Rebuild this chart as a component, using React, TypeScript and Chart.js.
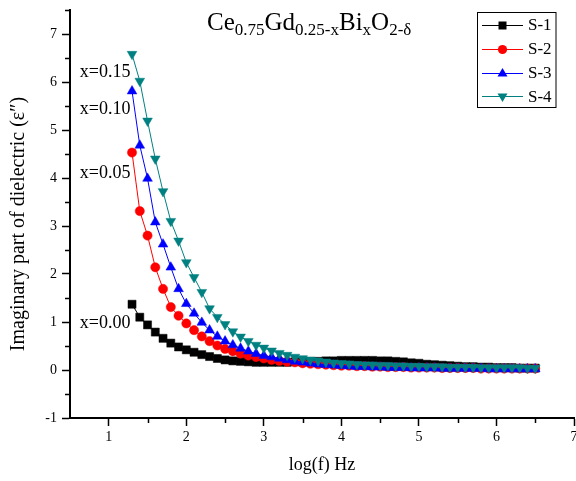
import React, { useEffect, useRef } from "react";
import { Chart, registerables } from "chart.js";

Chart.register(...registerables);

// log(f) values (Hz, log scale)
const logF = [
  1.3, 1.4, 1.5, 1.6, 1.7, 1.8, 1.9, 2.0, 2.1, 2.2, 2.3, 2.4, 2.5, 2.6, 2.7, 2.8, 2.9,
  3.0, 3.1, 3.2, 3.3, 3.4, 3.5, 3.6, 3.7, 3.8, 3.9, 4.0, 4.1, 4.2, 4.3, 4.4, 4.5, 4.6,
  4.7, 4.8, 4.9, 5.0, 5.1, 5.2, 5.3, 5.4, 5.5, 5.6, 5.7, 5.8, 5.9, 6.0, 6.1, 6.2, 6.3,
  6.4, 6.5,
];

const s1 = [
  1.37, 1.1, 0.94, 0.79, 0.66, 0.56, 0.48, 0.42, 0.37, 0.32, 0.28, 0.24, 0.21, 0.19, 0.18, 0.17, 0.16,
  0.16, 0.16, 0.16, 0.16, 0.17, 0.17, 0.18, 0.18, 0.19, 0.19, 0.2, 0.2, 0.2, 0.2, 0.2, 0.19, 0.19,
  0.18, 0.17, 0.15, 0.14, 0.12, 0.11, 0.1, 0.09, 0.08, 0.07, 0.07, 0.06, 0.06, 0.05, 0.05, 0.05, 0.04,
  0.04, 0.04,
];

const s2 = [
  4.53, 3.31, 2.8, 2.14, 1.69, 1.31, 1.13, 0.97, 0.83, 0.7, 0.6, 0.51, 0.44, 0.39, 0.34, 0.3, 0.27,
  0.24, 0.21, 0.19, 0.17, 0.16, 0.14, 0.13, 0.12, 0.11, 0.1, 0.09, 0.09, 0.08, 0.08, 0.07, 0.07, 0.06,
  0.06, 0.06, 0.05, 0.05, 0.05, 0.05, 0.04, 0.04, 0.04, 0.04, 0.04, 0.03, 0.03, 0.03, 0.03, 0.03, 0.03,
  0.03, 0.03,
];

const s3 = [
  5.81, 4.68, 3.99, 3.08, 2.62, 2.14, 1.69, 1.38, 1.18, 0.99, 0.83, 0.7, 0.6, 0.52, 0.45, 0.39, 0.34,
  0.3, 0.27, 0.24, 0.21, 0.18, 0.16, 0.14, 0.12, 0.11, 0.1, 0.09, 0.08, 0.07, 0.07, 0.06, 0.06, 0.05,
  0.05, 0.05, 0.04, 0.04, 0.04, 0.04, 0.03, 0.03, 0.03, 0.03, 0.03, 0.03, 0.02, 0.02, 0.02, 0.02, 0.02,
  0.02, 0.02,
];

const s4 = [
  6.58, 6.02, 5.19, 4.4, 3.72, 3.1, 2.69, 2.24, 1.93, 1.62, 1.28, 1.1, 0.95, 0.8, 0.69, 0.6, 0.52,
  0.46, 0.4, 0.35, 0.31, 0.27, 0.24, 0.21, 0.19, 0.17, 0.15, 0.14, 0.13, 0.12, 0.11, 0.11, 0.1, 0.1,
  0.09, 0.09, 0.08, 0.08, 0.07, 0.07, 0.07, 0.06, 0.06, 0.06, 0.06, 0.05, 0.05, 0.05, 0.05, 0.05, 0.05,
  0.04, 0.04,
];

const seriesNames = ["S-1", "S-2", "S-3", "S-4"];
const seriesValues = [s1, s2, s3, s4];
const seriesColors = ["#000000", "#ff0000", "#0000ff", "#008080"];

const xTicks = [1, 2, 3, 4, 5, 6, 7];
const yTicks = [-1, 0, 1, 2, 3, 4, 5, 6, 7];

const compositionLabels = ["x=0.15", "x=0.10", "x=0.05", "x=0.00"];
const compositionAnchorX = 1.28;
const compositionAnchorY = [6.2, 5.44, 4.1, 0.97];

const xTitle = "log(f) Hz";
const yTitle = "Imaginary part of dielectric (\u03b5\u2033)";
const titleParts: [string, boolean][] = [
  ["Ce", false],
  ["0.75", true],
  ["Gd", false],
  ["0.25-x", true],
  ["Bi", false],
  ["x", true],
  ["O", false],
  ["2-\u03b4", true],
];

const FONT = '"Liberation Serif", "Times New Roman", serif';

function drawMarker(ctx: CanvasRenderingContext2D, kind: number, x: number, y: number, color: string) {
  ctx.save();
  ctx.fillStyle = color;
  ctx.beginPath();
  if (kind === 0) {
    ctx.rect(x - 4, y - 4, 8, 8);
  } else if (kind === 1) {
    ctx.arc(x, y, 4.6, 0, Math.PI * 2);
  } else if (kind === 2) {
    ctx.moveTo(x, y - 5.5);
    ctx.lineTo(x + 5, y + 3);
    ctx.lineTo(x - 5, y + 3);
    ctx.closePath();
  } else {
    ctx.moveTo(x, y + 5.5);
    ctx.lineTo(x + 5, y - 3);
    ctx.lineTo(x - 5, y - 3);
    ctx.closePath();
  }
  ctx.fill();
  ctx.restore();
}

const decorPlugin = {
  id: "decor",
  afterDraw(chart: any) {
    const ctx: CanvasRenderingContext2D = chart.ctx;
    const xs = chart.scales.x;
    const ys = chart.scales.y;
    const area = chart.chartArea;
    ctx.save();

    // minor ticks
    ctx.strokeStyle = "#000";
    ctx.lineWidth = 1.5;
    ctx.beginPath();
    for (let i = 0; i < xTicks.length - 1; i++) {
      const px = Math.round(xs.getPixelForValue((xTicks[i] + xTicks[i + 1]) / 2)) + 0.5;
      ctx.moveTo(px, area.bottom);
      ctx.lineTo(px, area.bottom + 5);
    }
    const yMinor: number[] = [];
    for (let i = 0; i < yTicks.length - 1; i++) yMinor.push((yTicks[i] + yTicks[i + 1]) / 2);
    yMinor.push(yTicks[yTicks.length - 1] + 0.5);
    for (const v of yMinor) {
      const py = Math.round(ys.getPixelForValue(v)) + 0.5;
      ctx.moveTo(area.left, py);
      ctx.lineTo(area.left - 5, py);
    }
    ctx.stroke();

    // title with subscripts
    let tx = 207;
    ctx.fillStyle = "#000";
    ctx.textBaseline = "alphabetic";
    ctx.textAlign = "left";
    for (const [txt, sub] of titleParts) {
      ctx.font = (sub ? "17px " : "25px ") + FONT;
      ctx.fillText(txt, tx, sub ? 35 : 30);
      tx += ctx.measureText(txt).width;
    }

    // composition annotations
    ctx.font = "18px " + FONT;
    ctx.textAlign = "right";
    ctx.textBaseline = "middle";
    compositionLabels.forEach((t, i) => {
      ctx.fillText(t, xs.getPixelForValue(compositionAnchorX), ys.getPixelForValue(compositionAnchorY[i]));
    });

    // axis titles
    ctx.font = "18px " + FONT;
    ctx.textAlign = "center";
    ctx.textBaseline = "middle";
    ctx.fillText(xTitle, (area.left + area.right) / 2, 465);
    ctx.save();
    ctx.font = "20px " + FONT;
    ctx.translate(19, 224);
    ctx.rotate(-Math.PI / 2);
    ctx.fillText(yTitle, 0, 0);
    ctx.restore();

    // legend
    ctx.strokeStyle = "#000";
    ctx.lineWidth = 1;
    ctx.strokeRect(477.5, 12.5, 78.5, 95);
    ctx.font = "17px " + FONT;
    ctx.textAlign = "left";
    ctx.textBaseline = "middle";
    seriesNames.forEach((name, i) => {
      const y = 25 + i * 23.8;
      ctx.strokeStyle = seriesColors[i];
      ctx.lineWidth = 1;
      ctx.beginPath();
      ctx.moveTo(482, Math.round(y) + 0.5);
      ctx.lineTo(523, Math.round(y) + 0.5);
      ctx.stroke();
      drawMarker(ctx, i, 502.5, Math.round(y) + 0.5, seriesColors[i]);
      ctx.fillStyle = "#000";
      ctx.fillText(name, 528, y + 1);
    });

    ctx.restore();
  },
};

export default function App() {
  const canvasRef = useRef<HTMLCanvasElement | null>(null);

  useEffect(() => {
    document.body.style.margin = "0";
    const canvas = canvasRef.current;
    if (!canvas) return;
    const styles = [
      { pointStyle: "rect", pointRadius: 5.7, rotation: 0 },
      { pointStyle: "circle", pointRadius: 4.6, rotation: 0 },
      { pointStyle: "triangle", pointRadius: 5.6, rotation: 0 },
      { pointStyle: "triangle", pointRadius: 5.6, rotation: 180 },
    ];
    const datasets = seriesNames.map((name, i) => ({
      label: name,
      data: logF.map((x, j) => ({ x, y: seriesValues[i][j] })),
      borderColor: seriesColors[i],
      backgroundColor: seriesColors[i],
      pointBackgroundColor: seriesColors[i],
      pointBorderColor: seriesColors[i],
      pointBorderWidth: 0.5,
      borderWidth: 1,
      pointStyle: styles[i].pointStyle as any,
      pointRadius: styles[i].pointRadius,
      pointRotation: styles[i].rotation,
      tension: 0,
      fill: false,
      order: 4 - i,
    }));

    const chart = new Chart(canvas, {
      type: "line",
      data: { datasets },
      options: {
        animation: false,
        responsive: false,
        devicePixelRatio: 1,
        layout: { autoPadding: false, padding: { top: 10, right: 2, left: 0, bottom: 0 } },
        plugins: {
          legend: { display: false },
          tooltip: { enabled: false },
          title: { display: false },
        },
        scales: {
          x: {
            type: "linear",
            min: 0.5,
            max: 7,
            afterBuildTicks: (scale: any) => {
              scale.ticks = xTicks.map((v) => ({ value: v }));
            },
            afterFit: (scale: any) => {
              scale.height = 63;
              scale.paddingLeft = 0;
              scale.paddingRight = 0;
            },
            border: { display: true, color: "#000", width: 2 },
            grid: {
              display: true,
              drawOnChartArea: false,
              drawTicks: true,
              tickLength: 8,
              tickWidth: 1.5,
              tickColor: "#000",
            },
            ticks: {
              color: "#000",
              padding: 3,
              maxRotation: 0,
              font: { family: FONT, size: 14 },
              callback: (v: any) => String(v),
            },
          },
          y: {
            type: "linear",
            min: -1,
            max: 7.5,
            afterBuildTicks: (scale: any) => {
              scale.ticks = yTicks.map((v) => ({ value: v }));
            },
            afterFit: (scale: any) => {
              scale.width = 70;
              scale.paddingTop = 0;
              scale.paddingBottom = 0;
            },
            border: { display: true, color: "#000", width: 2 },
            grid: {
              display: true,
              drawOnChartArea: false,
              drawTicks: true,
              tickLength: 8,
              tickWidth: 1.5,
              tickColor: "#000",
            },
            ticks: {
              color: "#000",
              padding: 5,
              font: { family: FONT, size: 14 },
              callback: (v: any) => String(v),
            },
          },
        },
      },
      plugins: [decorPlugin],
    });

    return () => {
      chart.destroy();
    };
  }, []);

  return (
    <div style={{ width: 576, height: 481, position: "relative", background: "#fff" }}>
      <canvas ref={canvasRef} width={576} height={481} />
    </div>
  );
}
